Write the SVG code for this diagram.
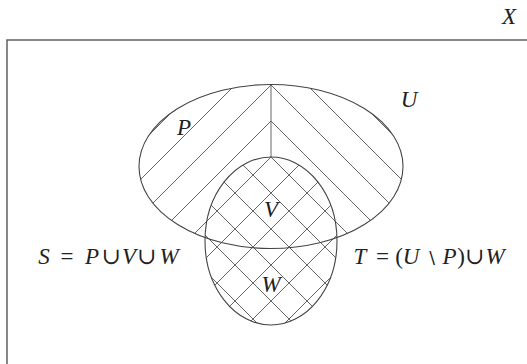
<svg xmlns="http://www.w3.org/2000/svg" width="527" height="364" viewBox="0 0 527 364">
<style>
.ln{stroke:#555;stroke-width:0.9;fill:none}
.ol{stroke:#444;stroke-width:1.1;fill:none}
.fr{stroke:#555;stroke-width:1.4;fill:none}
.t{font-family:"Liberation Serif","DejaVu Serif",serif;font-size:23px;fill:#222;text-anchor:middle}
.i{font-style:italic}
.sm{font-size:17px}
</style>
<defs>
<clipPath id="clipA">
<path d="M271,84.5 A132,82 0 0 0 271,248.5 Z"/>
<ellipse cx="271" cy="241" rx="66" ry="84"/>
</clipPath>
<clipPath id="clipB">
<path d="M271,84.5 A132,82 0 0 1 271,248.5 Z"/>
<ellipse cx="271" cy="241" rx="66" ry="84"/>
</clipPath>
</defs>
<rect id="frame" x="7" y="40" width="540" height="340" class="fr"/>
<g id="hatchA" clip-path="url(#clipA)" class="ln">
<line x1="100" y1="184" x2="450" y2="-166"/>
<line x1="100" y1="220" x2="450" y2="-130"/>
<line x1="100" y1="256" x2="450" y2="-94"/>
<line x1="100" y1="292" x2="450" y2="-58"/>
<line x1="100" y1="328" x2="450" y2="-22"/>
<line x1="100" y1="364" x2="450" y2="14"/>
<line x1="100" y1="400" x2="450" y2="50"/>
<line x1="100" y1="436" x2="450" y2="86"/>
<line x1="100" y1="472" x2="450" y2="122"/>
<line x1="100" y1="508" x2="450" y2="158"/>
</g>
<g id="hatchB" clip-path="url(#clipB)" class="ln">
<line x1="100" y1="166" x2="450" y2="516"/>
<line x1="100" y1="130" x2="450" y2="480"/>
<line x1="100" y1="94" x2="450" y2="444"/>
<line x1="100" y1="58" x2="450" y2="408"/>
<line x1="100" y1="22" x2="450" y2="372"/>
<line x1="100" y1="-14" x2="450" y2="336"/>
<line x1="100" y1="-50" x2="450" y2="300"/>
<line x1="100" y1="-86" x2="450" y2="264"/>
<line x1="100" y1="-122" x2="450" y2="228"/>
<line x1="100" y1="-158" x2="450" y2="192"/>
</g>
<g id="divider"><line x1="271" y1="84.5" x2="271" y2="157" class="ln"/></g>
<g id="setU"><ellipse cx="271" cy="166.5" rx="132" ry="82" class="ol"/></g>
<g id="setW"><ellipse cx="271" cy="241" rx="66" ry="84" class="ol"/></g>
<g id="labels">
<text class="t i" x="509" y="24">X</text>
<text class="t i" x="409" y="107">U</text>
<text class="t i" x="184" y="135">P</text>
<text class="t i" x="271" y="217">V</text>
<text class="t i" x="271" y="292">W</text>
<text class="t" y="264"><tspan class="i" x="44">S</tspan><tspan x="67">=</tspan><tspan class="i" x="92">P</tspan><tspan x="111.5">∪</tspan><tspan class="i" x="129">V</tspan><tspan x="147">∪</tspan><tspan class="i" x="169">W</tspan></text>
<text class="t" y="264"><tspan class="i" x="360">T</tspan><tspan x="382.5">=</tspan><tspan x="399">(</tspan><tspan class="i" x="411">U</tspan><tspan class="sm" x="431.5">∖</tspan><tspan class="i" x="449.5">P</tspan><tspan x="461">)</tspan><tspan x="475">∪</tspan><tspan class="i" x="495">W</tspan></text>
</g>
</svg>
